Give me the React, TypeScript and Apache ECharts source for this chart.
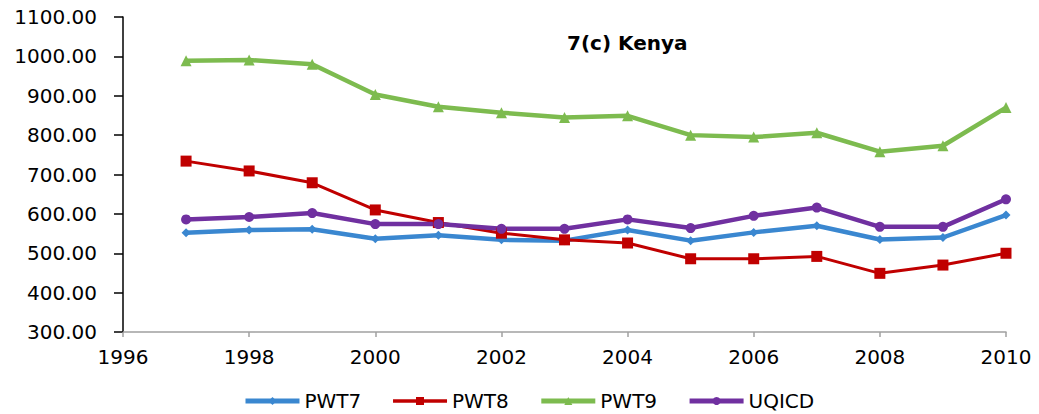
import React, { useEffect, useRef } from "react";
import * as echarts from "echarts";

const years = [1997, 1998, 1999, 2000, 2001, 2002, 2003, 2004, 2005, 2006, 2007, 2008, 2009, 2010];
const pwt7 = [552, 559, 561, 537, 546, 534, 532, 559, 532, 553, 570, 535, 540, 597];
const pwt8 = [734, 709, 679, 610, 578, 551, 534, 526, 486, 486, 492, 449, 470, 500];
const pwt9 = [989, 991, 980, 903, 872, 857, 845, 849, 800, 795, 806, 758, 773, 870];
const uqicd = [586, 592, 602, 574, 574, 562, 562, 586, 564, 595, 616, 567, 567, 637];

const FONT = "DejaVu Sans";

export default function App() {
  const ref = useRef<HTMLDivElement>(null);
  useEffect(() => {
    document.body.style.margin = "0";
    const chart = echarts.init(ref.current!, null, { renderer: "svg" });
    const mk = (name: string, data: number[], color: string, symbol: string, size: number, width: number) => ({
      name,
      type: "line",
      data: years.map((y, i) => [y, data[i]]),
      symbol,
      symbolSize: size,
      itemStyle: { color },
      lineStyle: { color, width },
    });
    chart.setOption({
      animation: false,
      title: {
        text: "7(c) Kenya",
        left: 562,
        top: 28,
        textStyle: { fontFamily: FONT, fontSize: 20, fontWeight: "bold", color: "#000" },
      },
      legend: {
        left: 243,
        top: 391,
        itemWidth: 54,
        itemHeight: 10,
        itemGap: 30,
        padding: 0,
        lineStyle: { width: 5 },
        textStyle: { fontFamily: FONT, fontSize: 20, color: "#000", lineHeight: 20 },
        data: [
          { name: "PWT7" },
          { name: "PWT8", lineStyle: { width: 3.5 } },
          { name: "PWT9" },
          { name: "UQICD" },
        ],
      },
      grid: { left: 123, right: 33, top: 17, bottom: 82 },
      xAxis: {
        type: "value",
        min: 1996,
        max: 2010,
        interval: 2,
        splitLine: { show: false },
        axisLine: { lineStyle: { color: "#A0A0A0", width: 1.5 } },
        axisTick: { length: 5, lineStyle: { color: "#A0A0A0", width: 1.5 } },
        axisLabel: {
          fontFamily: FONT,
          fontSize: 20,
          color: "#000",
          margin: 15,
          formatter: (v: number) => String(v),
        },
      },
      yAxis: {
        type: "value",
        min: 300,
        max: 1100,
        interval: 100,
        splitLine: { show: false },
        axisLine: { show: true, lineStyle: { color: "#000", width: 1.5 } },
        axisTick: { show: true, length: 9, lineStyle: { color: "#000", width: 1.5 } },
        axisLabel: {
          fontFamily: FONT,
          fontSize: 20,
          color: "#000",
          margin: 26,
          formatter: (v: number) => v.toFixed(2),
        },
      },
      series: [
        mk("PWT7", pwt7, "#3A87D0", "diamond", 9, 4.5),
        mk("PWT8", pwt8, "#C00000", "rect", 11, 3),
        mk("PWT9", pwt9, "#7DBB4F", "triangle", 11, 4.5),
        mk("UQICD", uqicd, "#7030A0", "circle", 10, 4.5),
      ],
    });
    return () => chart.dispose();
  }, []);
  return <div ref={ref} style={{ position: "absolute", left: 0, top: 0, width: 1039, height: 414 }} />;
}
